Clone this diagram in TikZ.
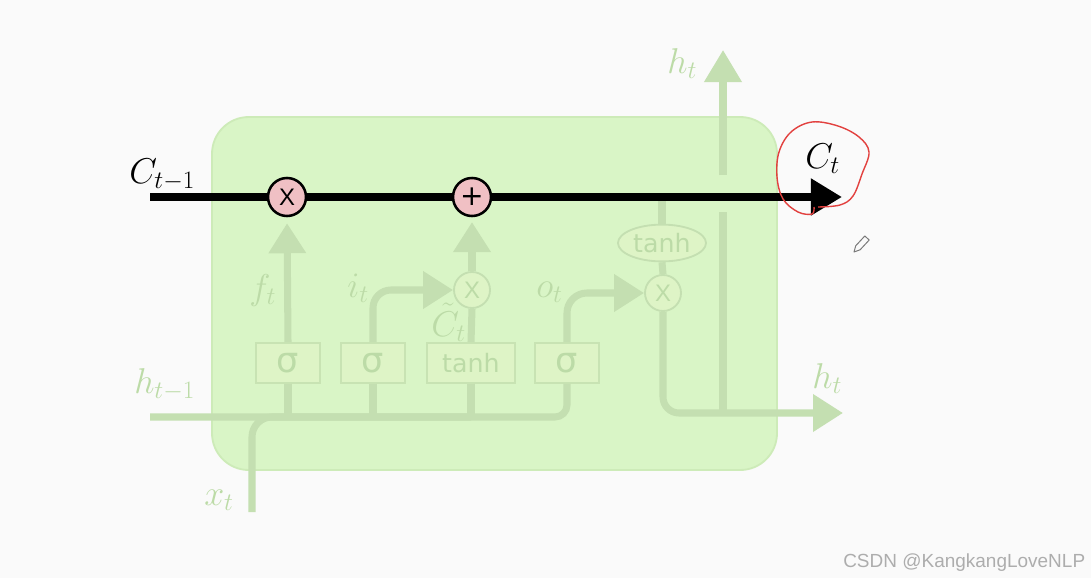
\documentclass[tikz,border=0pt]{standalone}
\usepackage{fix-cm}
\usepackage{fontspec}
\usetikzlibrary{arrows.meta,positioning,calc,shapes.geometric}
\newfontfamily\gatefont{DejaVu Sans}
\newfontfamily\markfont{Liberation Sans}
\definecolor{Paper}{HTML}{FAFAFA}
\definecolor{Cell}{HTML}{D9F5C6}
\definecolor{CellLine}{HTML}{CDEBB8}
\definecolor{Fade}{HTML}{C4DFB1}
\definecolor{FadeText}{HTML}{BCDBA7}
\definecolor{BoxFill}{HTML}{DEF4C6}
\definecolor{BoxLine}{HTML}{C8E3B3}
\definecolor{Pink}{HTML}{F0C0C4}
\definecolor{Scribble}{HTML}{E2413F}
\definecolor{Mark}{HTML}{ADADAD}

\begin{document}
\begin{tikzpicture}[x=0.025cm,y=-0.025cm,
  faded/.style={draw=Fade,line width=5pt},
  fadetip/.style={faded,-{Triangle[length=0.75cm,width=0.9cm]}},
  gatebox/.style={draw=BoxLine,fill=BoxFill,line width=1.3pt,minimum width=1.6cm,minimum height=1cm,inner sep=0pt,text=FadeText,font=\gatefont\fontsize{25}{26}\selectfont},
  fadeop/.style={circle,draw=Fade,fill=BoxFill,line width=1.3pt,minimum size=0.9cm,inner sep=0pt,text=FadeText,font=\markfont\fontsize{17}{19}\selectfont},
  cellop/.style={circle,draw=black,fill=Pink,line width=1.8pt,minimum size=0.95cm,inner sep=0pt},
  lbl/.style={anchor=base west,inner sep=0pt,font=\fontsize{25.5}{30}\selectfont,text=FadeText},
  blbl/.style={lbl,text=black}]
\path[use as bounding box,fill=Paper] (0,0) rectangle (1091,578);
% cell body
\draw[fill=Cell,draw=CellLine,line width=1.3pt,rounded corners=0.92cm] (212,117) rectangle (777,470);
% gates
\node[gatebox] (sf) at (288,363) {σ};
\node[gatebox] (si) at (373,363) {σ};
\node[gatebox,minimum width=2.2cm,font=\gatefont\fontsize{18}{20}\selectfont] (sc) at (471,363) {tanh};
\node[gatebox] (so) at (567,363) {σ};
\node[fadeop] (muli) at (472,290) {X};
\node[fadeop] (mulo) at (663,293) {X};
\node[ellipse,draw=Fade,fill=BoxFill,line width=1.3pt,minimum width=2.2cm,minimum height=0.92cm,inner sep=0pt,text=FadeText,font=\gatefont\fontsize{18}{20}\selectfont] (tanhc) at (662,243) {tanh};
\node[cellop,font=\markfont\fontsize{17}{19}\selectfont] (mulf) at (287,197) {X};
\node[cellop,font=\gatefont\fontsize{20}{22}\selectfont] (addi) at (472,197) {+};
\coordinate (cin) at (150,197);
\coordinate (cout) at (842,197);
\coordinate (hprev) at (150,417);
\coordinate (xin) at (252,512);
\coordinate (hout) at (843,413);
\coordinate (hsplit) at (723,413);
\coordinate (gaplo) at (723,212);
\coordinate (gaphi) at (723,175);
\coordinate (htop) at (723,50);
% faded flow
\draw[faded,rounded corners=0.3cm] (hprev) -| (so.south);
\draw[faded,rounded corners=0.5cm] (xin) |- (sc.south |- hprev);
\foreach \g in {sf,si,sc} {\draw[faded] (\g.south) -- (\g.south |- hprev);}
\draw[fadetip,shorten >=0.15cm] (sf.north) -- (mulf.south);
\draw[fadetip,rounded corners=0.45cm] (si.north) |- (muli.west);
\draw[faded] (sc.north) -- (muli.south);
\draw[fadetip,shorten >=0.12cm] (muli.north) -- (addi.south);
\draw[fadetip,rounded corners=0.5cm] (so.north) |- (mulo.west);
\draw[faded] (mulo.north) -- (tanhc.south);
\draw[faded] (tanhc.north) -- (tanhc.north |- cin);
\draw[fadetip,rounded corners=0.4cm] (mulo.south) |- (hout);
\draw[faded] (hsplit) -- (gaplo);
\draw[faded,-{Triangle[length=0.8cm,width=0.9cm]}] (gaphi) -- (htop);
% cell state
\draw[line width=6.3pt] (cin) -- (mulf.west);
\draw[line width=6.3pt] (mulf.east) -- (addi.west);
\draw[line width=6.3pt,-{Triangle[length=0.78cm,width=0.88cm]}] (addi.east) -- (cout);
% labels
\node[blbl] (lcprev) at (129,183) {$C_{t-1}$};
\node[blbl] (lcnext) at (805,168) {$C_t$};
\node[lbl] (lhtop) at (667,73) {$h_t$};
\node[lbl] (lhout) at (812,388) {$h_t$};
\node[lbl] (lhprev) at (134,393) {$h_{t-1}$};
\node[lbl] (lx) at (204,505) {$x_t$};
\node[lbl] (lf) at (249,299) {$f_t$};
\node[lbl] (li) at (347,297) {$i_t$};
\node[lbl] (lo) at (536,297) {$o_t$};
\node[lbl] (lct) at (431,336) {$\tilde{C}_t$};
% scribble round C_t
\draw[Scribble,line width=1pt] plot[smooth,tension=0.6] coordinates {(818,207) (840,205) (853,196) (862,174) (869,152) (859,137) (838,126) (812,122) (791,132) (779,152) (777,177) (783,199) (798,212) (812,214) (814,207)};
% pencil cursor
\draw[Mark!70!black,line width=0.7pt,line join=round] (869.2,240) -- (864.8,236) -- (855.7,245.8) -- (854,252) -- (860.1,249.8) -- cycle;
\node[anchor=base west,inner sep=0pt,text=Mark,font=\markfont\fontsize{13.5}{15}\selectfont] (mark) at (843,567) {CSDN @KangkangLoveNLP};
\end{tikzpicture}
\end{document}
